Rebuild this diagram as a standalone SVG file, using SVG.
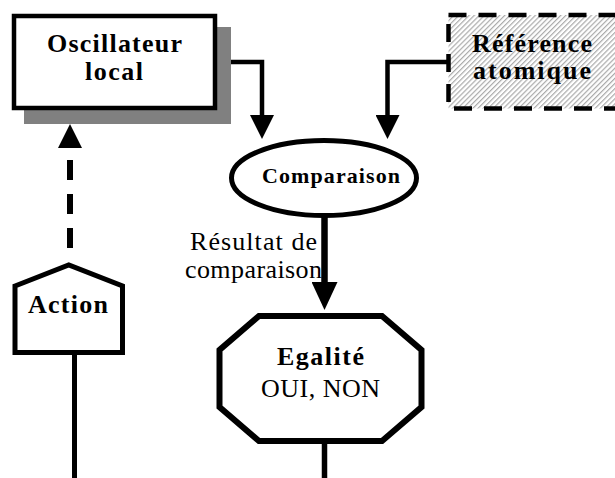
<svg xmlns="http://www.w3.org/2000/svg" width="615" height="478" viewBox="0 0 615 478">
<style>
.b{font-family:"Liberation Serif","Times New Roman",serif;font-weight:bold;font-size:26px;fill:#000;text-anchor:middle}
.r{font-family:"Liberation Serif","Times New Roman",serif;font-size:26px;fill:#000;text-anchor:middle}
.node{stroke:#000;fill:#fff;stroke-linejoin:miter}
.con{fill:none;stroke:#000}
</style>
<defs>
<pattern id="hatch" patternUnits="userSpaceOnUse" width="3.6" height="3.6" patternTransform="rotate(45)">
<rect width="3.6" height="3.6" fill="#fff"/>
<line x1="0.6" y1="0" x2="0.6" y2="3.6" stroke="#aaaaaa" stroke-width="1.2"/>
</pattern>
<marker id="arr" markerUnits="userSpaceOnUse" viewBox="0 0 24 24" markerWidth="24" markerHeight="24" refX="0" refY="12" orient="auto">
<path d="M0,0 L24,12 L0,24 Z" fill="#000"/>
</marker>
<marker id="arrL" markerUnits="userSpaceOnUse" viewBox="0 0 28 26" markerWidth="28" markerHeight="26" refX="0" refY="13" orient="auto">
<path d="M0,0 L28,13 L0,26 Z" fill="#000"/>
</marker>
</defs>

<g id="connectors">
<path class="con" d="M217,62 H262 V115" stroke-width="4.5" marker-end="url(#arr)"/>
<path class="con" d="M448,62 H387.5 V115" stroke-width="4.5" marker-end="url(#arr)"/>
<path class="con" d="M324.5,214 V282" stroke-width="6.5" marker-end="url(#arrL)"/>
<path class="con" d="M70,248 V148" stroke-width="6" stroke-dasharray="20 14" marker-end="url(#arr)"/>
<path class="con" d="M74.5,354 V478" stroke-width="5"/>
<path class="con" d="M324.5,442 V478" stroke-width="5.5"/>
</g>

<g id="oscillateur">
<rect x="24" y="27" width="207" height="97" fill="#808080"/>
<rect class="node" x="14" y="16" width="201" height="92" stroke-width="4.5"/>
<text class="b" x="114.5" y="52" textLength="135">Oscillateur</text>
<text class="b" x="114" y="80" textLength="58">local</text>
</g>

<g id="reference">
<rect x="448.5" y="15" width="175" height="93.5" fill="url(#hatch)" stroke="#000" stroke-width="4.5" stroke-dasharray="18 12"/>
<text class="b" x="532" y="52" textLength="120">Référence</text>
<text class="b" x="532" y="79" textLength="118">atomique</text>
</g>

<g id="comparaison">
<ellipse class="node" cx="324" cy="178" rx="92.5" ry="37.5" stroke-width="5"/>
<text class="b" x="331" y="183" style="font-size:22px" textLength="138">Comparaison</text>
</g>

<g id="resultat-label">
<text class="r" x="253.5" y="250" textLength="127">Résultat de</text>
<text class="r" x="253.5" y="278" textLength="137">comparaison</text>
</g>

<g id="action">
<polygon class="node" points="15,286 68.75,265 122.5,286 122.5,352.5 15,352.5" stroke-width="5"/>
<text class="b" x="68" y="313" textLength="80">Action</text>
</g>

<g id="egalite">
<polygon class="node" points="259,316 382,316 421.5,350 421.5,407 382,441 259,441 219.5,407 219.5,350" stroke-width="6"/>
<text class="b" x="320.5" y="365" textLength="87">Egalité</text>
<text class="r" x="320.5" y="397" textLength="119">OUI, NON</text>
</g>
</svg>
